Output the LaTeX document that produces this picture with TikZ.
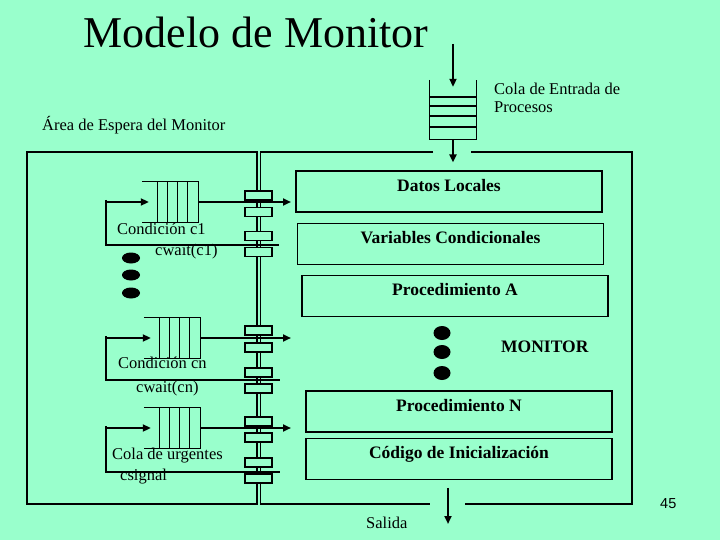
\documentclass[tikz,border=0pt]{standalone}
\usepackage{fontspec}
\setmainfont{Liberation Serif}
\newfontfamily\numfont{Liberation Sans}
\usetikzlibrary{arrows.meta, positioning, shapes.geometric}
\definecolor{fondo}{RGB}{153,255,204}

\begin{document}
\begin{tikzpicture}[
    x=1pt, y=-1pt,
    every node/.style={font=\fontsize{16.5}{18}\selectfont, inner sep=0pt},
    box/.style={rectangle, draw, line width=1.2pt, minimum width=306pt,
                minimum height=41pt, text height=10pt, text depth=10pt,
                font=\fontsize{17.5}{20}\selectfont\bfseries},
    cola/.style={rectangle, minimum width=56pt, minimum height=41pt},
    gate/.style={rectangle, draw, fill=fondo, line width=1.1pt,
                 minimum width=27pt, minimum height=9pt},
    frame/.style={line width=1.2pt},
    arrow/.style={-{Triangle[length=8pt, width=7pt]}, line width=2pt}
]
\useasboundingbox[fill=fondo] (0,0) rectangle (720,540);

\node (titulo) [font=\fontsize{44}{48}\selectfont] at (256,32) {Modelo de Monitor};

% cola de entrada
\node (entrada) [rectangle, minimum width=47pt, minimum height=59pt] at (453,109.5) {};
\draw [frame] (entrada.north west) -- (entrada.south west)
    -- (entrada.south east) -- (entrada.north east);
\foreach \y in {97,106,116,127}
    \draw [frame] (entrada.west |- 0,\y) -- (entrada.east |- 0,\y);
\node (lentrada) [anchor=base west, align=left] at (494,113) {Cola de Entrada de\\Procesos};
\node (espera) [anchor=base west] at (42,131) {Área de Espera del Monitor};

% marcos
\draw [frame] (27,152) rectangle (257,504);
\draw [frame] (433,152) -- (260.5,152) -- (260.5,504) -- (430,504);
\draw [frame] (471,152) -- (632,152) -- (632,504) -- (465,504);

% monitor
\node (datos)   [box] at (449,191.5) {Datos Locales};
\node (varcond) [box, below=10pt of datos, xshift=1.5pt] {Variables Condicionales};
\node (procA)   [box, below=10pt of varcond, xshift=4.5pt] {Procedimiento A};
\node (procN)   [box] at (459,411.5) {Procedimiento N};
\node (codigo)  [box, below=5pt of procN] {Código de Inicialización};
\node (monitor) [anchor=base west, font=\fontsize{17.5}{20}\selectfont\bfseries] at (501,352) {MONITOR};
\foreach \y in {333,352,373}
    \fill (442,\y) ellipse [x radius=8.5pt, y radius=7pt];

\coordinate (llegada) at (453,44);
\draw [arrow] (llegada) -- ([yshift=-7pt]entrada.north);
\draw [arrow, shorten >=8pt] (entrada.south) -- (entrada.south |- datos.north);

% colas de condicion
\node (c1)  [cola] at (170,202) {};
\node (cn)  [cola] at (172,338) {};
\node (urg) [cola] at (172,428) {};
\coordinate (ent-c1)  at (106,202);
\coordinate (ent-cn)  at (106,338);
\coordinate (ent-urg) at (106,428);
\coordinate (sep-c1)  at (279,245);
\coordinate (sep-cn)  at (280,380);
\coordinate (sep-urg) at (280,472);
\coordinate (salto) at (291,0);

\foreach \q in {c1,cn,urg} {
    \draw [frame] (\q.north west) -- (\q.north east) -- (\q.south east) -- (\q.south west);
    \foreach \dx in {16,26,36,46}
        \draw [frame] ([xshift=\dx pt]\q.north west) -- ([xshift=\dx pt]\q.south west);
    \draw [frame] ([yshift=2pt]ent-\q) |- (sep-\q);
    \draw [arrow] (ent-\q) -- ([xshift=7pt]\q.west);
    \draw [arrow] (\q.east) -- (\q.east -| salto);
}

\foreach \y [count=\i] in {195.5,212,236,252,330.5,347.5,372.5,388.5,421.5,437.5,462.5,478.5}
    \node (puerta\i) [gate] at (258.5,\y) {};

\node (lc1)  [anchor=base west] at (117,235) {Condición c1};
\node (wc1)  [anchor=base west] at (155,255) {cwait(c1)};
\node (lcn)  [anchor=base west] at (118,368) {Condición cn};
\node (wcn)  [anchor=base west] at (136,392) {cwait(cn)};
\node (lurg) [anchor=base west] at (112,459) {Cola de urgentes};
\node (wurg) [anchor=base west] at (120,480) {csignal};
\foreach \y in {258,275,293}
    \fill (131,\y) ellipse [x radius=9pt, y radius=5.5pt];

% salida
\coordinate (fin) at (448,524);
\draw [arrow, shorten <=8pt] (codigo.south -| fin) -- (fin);
\node (salida) [anchor=base west] at (366,528) {Salida};
\node (pagina) [anchor=base west, font=\numfont\fontsize{14.5}{16}\selectfont] at (660,508) {45};
\end{tikzpicture}
\end{document}
